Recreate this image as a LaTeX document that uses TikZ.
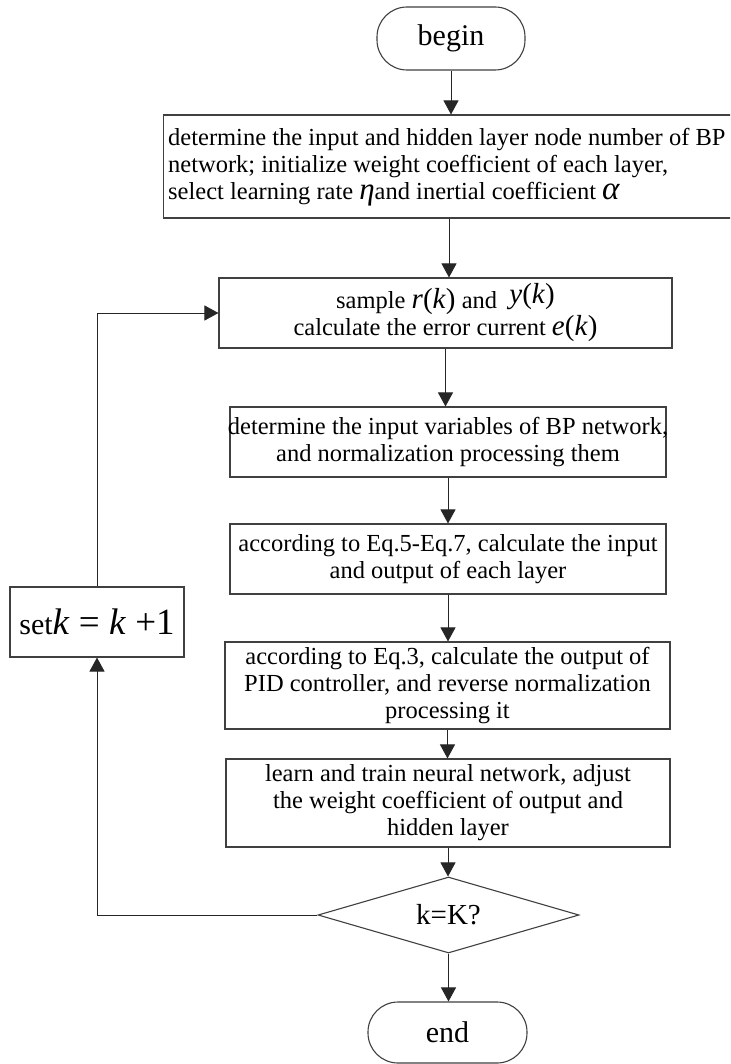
\documentclass[tikz,border=0pt]{standalone}
\usepackage{fontspec}
\setmainfont{Liberation Serif}
\usetikzlibrary{shapes.geometric,arrows.meta}
\newcommand\bodyfont{\fontsize{24.5pt}{27pt}\selectfont}
\newcommand\mth[1]{{\fontsize{29pt}{27pt}\selectfont #1}}
\begin{document}
\begin{tikzpicture}[x=1pt,y=-1pt,
  box/.style={draw=black!75, line width=1.1pt, rectangle, inner sep=0pt, align=center, font=\bodyfont},
  term/.style={draw=black!75, line width=1.1pt, rectangle, rounded corners=30pt, inner sep=0pt, font=\fontsize{30pt}{30pt}\selectfont},
  decision/.style={draw=black!75, line width=1.1pt, diamond, aspect=3.43, inner sep=0pt, font=\fontsize{29pt}{29pt}\selectfont},
  arr/.style={draw=black!85, line width=1pt, -{Triangle[length=14pt,width=15pt]}},
]
\clip (0,0) rectangle (730,1064);
\fill[white] (0,0) rectangle (730,1064);

\node[term, minimum width=148pt, minimum height=63pt] (start) at (451,38.5) {begin};

\node[box, anchor=west, minimum width=600pt, minimum height=103pt] (init) at (163,166.5) {};
\node[font=\bodyfont, align=left, anchor=west, inner sep=0pt] (inittext) at (168,167)
  {determine the input and hidden layer node number of BP\\
   network; initialize weight coefficient of each layer,\\
   select learning rate {\fontsize{31pt}{27pt}\selectfont\itshape η}and inertial coefficient {\fontsize{33pt}{27pt}\selectfont\itshape α}};
\coordinate (initout) at (449,218);

\node[box, minimum width=453pt, minimum height=70pt] (samp) at (445.5,313)
  {sample \mth{\textit{r}(\textit{k})} and \ \raisebox{5pt}{\mth{\textit{y}(\textit{k})}}\\
   calculate the error current \mth{\textit{e}(\textit{k})}};

\node[box, minimum width=436pt, minimum height=70pt] (inp) at (448,442)
  {\makebox[0pt]{determine the input variables of BP network,}\\
   and normalization processing them};

\node[box, minimum width=436pt, minimum height=70pt] (calc) at (448,559)
  {according to Eq.5-Eq.7, calculate the input\\
   and output of each layer};

\node[box, minimum width=445pt, minimum height=87pt] (pid) at (447.5,685.5)
  {according to Eq.3, calculate the output of\\
   PID controller, and reverse normalization\\
   processing it};

\node[box, minimum width=444pt, minimum height=88pt] (learn) at (448,803)
  {learn and train neural network, adjust\\
   the weight coefficient of output and\\
   hidden layer};

\node[decision, minimum width=261pt, minimum height=76pt] (dec) at (448.5,915) {k=K?};

\node[term, minimum width=159pt, minimum height=61pt] (stop) at (447.5,1032.5) {end};

\node[box, minimum width=174pt, minimum height=70pt, font=\fontsize{30pt}{30pt}\selectfont] (setk) at (97,622)
  {set{\fontsize{37pt}{30pt}\selectfont\textit{k} = \textit{k} +1}};

\draw[arr] (start.south) -- (start.south |- init.north);
\draw[arr] (initout |- init.south) -- (initout |- samp.north);
\draw[arr] (samp.south) -- (samp.south |- inp.north);
\draw[arr] (inp.south) -- (inp.south |- calc.north);
\draw[arr] (calc.south) -- (calc.south |- pid.north);
\draw[arr] (pid.south) -- (pid.south |- learn.north);
\draw[arr] (learn.south) -- (learn.south |- dec.north);
\draw[arr] (dec.south) -- (dec.south |- stop.north);
\draw[arr] (dec.west) -| (setk.south);
\draw[arr] (setk.north) |- (samp.west);
\end{tikzpicture}
\end{document}
